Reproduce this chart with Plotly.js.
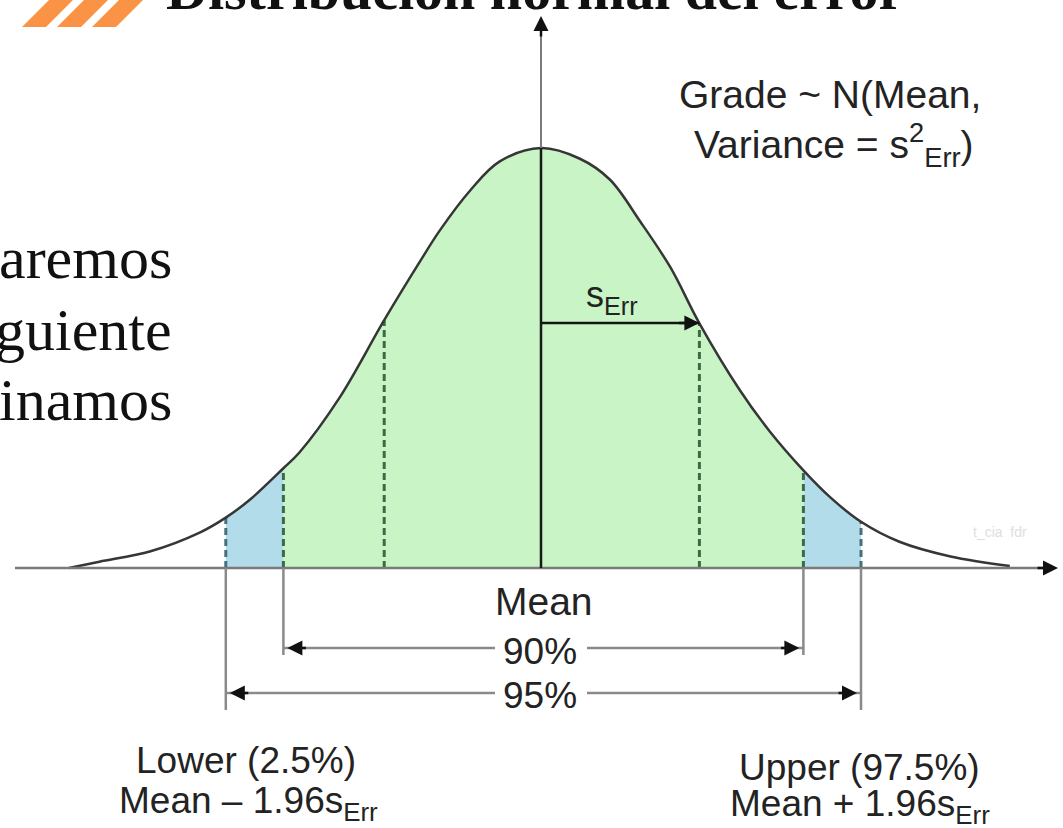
<!DOCTYPE html>
<html><head><meta charset="utf-8">
<script src="https://cdn.plot.ly/plotly-3.0.1.min.js"></script>
<style>html,body{margin:0;padding:0;background:#fff;overflow:hidden}#chart{width:1063px;height:828px}</style>
</head><body><div id="chart"></div>
<script>
// ---- data ----
// x position along the axis, in units of s_Err from the mean
const zVals = [-2.95, -2.76, -2.44, -2.13, -1.97, -1.82, -1.61, -1.51, -1.26, -0.98, -0.76, -0.63, -0.44, -0.26, 0,
               0.24, 0.43, 0.62, 0.81, 0.99, 1.24, 1.43, 1.64, 1.81, 2.0, 2.24, 2.56, 2.93];
// height of the error density curve
const density = [0.000, 0.006, 0.016, 0.034, 0.048, 0.065, 0.095, 0.110, 0.162, 0.236, 0.291, 0.322, 0.360, 0.387, 0.400,
                 0.390, 0.370, 0.330, 0.286, 0.233, 0.170, 0.130, 0.093, 0.067, 0.044, 0.025, 0.011, 0.002];
// marked positions
const lower95 = -1.97, lower90 = -1.61, minusOne = -0.98, plusOne = 0.99, upper90 = 1.64, upper95 = 2.0;
// texts
const titleText = 'Distribución normal del error';
const sideTexts = ['aremos', 'guiente', 'inamos'];
const meanLabel = 'Mean';
const intervalLabels = ['90%', '95%'];
const lowerLabel = ['Lower (2.5%)', 'Mean – 1.96s<sub>Err</sub>'];
const upperLabel = ['Upper (97.5%)', 'Mean + 1.96s<sub>Err</sub>'];
const distLabel = ['Grade ~ N(Mean,', 'Variance = s<sup>2</sup><sub>Err</sub>)'];
const sdLabel = 's<sub>Err</sub>';
const watermark = 't_cia  fdr';

// ---- layout helpers (pixel -> data) ----
const W = 1063, H = 828, X0 = 541, SX = 160, Y0 = 568, SY = 1050;
const px2x = p => (p - X0) / SX;
const py2y = p => (Y0 - p) / SY;
const dx = p => p / SX;

const idx = v => zVals.indexOf(v);
const green = '#c9f5c6', blue = '#b3dcea';
const sans = 'Liberation Sans, Arial, sans-serif';
const serif = 'Liberation Serif, Times New Roman, serif';
const txt = '#232323';

const traces = [];
function fillTrace(a, b, color) {
  traces.push({x: zVals.slice(idx(a), idx(b) + 1), y: density.slice(idx(a), idx(b) + 1),
    mode: 'lines', fill: 'tozeroy', fillcolor: color, line: {width: 0, shape: 'spline', smoothing: 1},
    hoverinfo: 'skip'});
}
fillTrace(lower90, upper90, green);
fillTrace(lower95, lower90, blue);
fillTrace(upper90, upper95, blue);

const dashMarks = [[lower95, '#46707c'], [lower90, '#3c6a45'], [minusOne, '#3c6a45'],
                   [plusOne, '#3c6a45'], [upper90, '#3c6a45'], [upper95, '#46707c']];
dashMarks.forEach(([m, c]) => {
  traces.push({x: [m, m], y: [0, density[idx(m)]], mode: 'lines',
    line: {color: c, width: 3, dash: '7px,4px'}, hoverinfo: 'skip'});
});

traces.push({x: zVals, y: density, mode: 'lines',
  line: {color: '#363636', width: 2.5, shape: 'spline', smoothing: 1}, hoverinfo: 'skip'});

const peak = density[idx(0)];
const y90 = py2y(648), y95 = py2y(693);
const gray = '#8a8a8a';
function ln(x0, y0, x1, y1, color, width) {
  return {type: 'line', xref: 'x', yref: 'y', x0, y0, x1, y1, line: {color, width}};
}
const shapes = [
  ln(px2x(15), 0, px2x(1048), 0, '#7a7a7a', 2.5),
  ln(0, 0, 0, peak, '#1a1a1a', 2.5),
  ln(0, peak, 0, py2y(30), '#7a7a7a', 2),
  ln(0, py2y(323), plusOne, py2y(323), '#151515', 2.5),
  ln(lower90, 0, lower90, py2y(655), gray, 2.5),
  ln(upper90, 0, upper90, py2y(655), gray, 2.5),
  ln(lower95, 0, lower95, py2y(710), gray, 2.5),
  ln(upper95, 0, upper95, py2y(710), gray, 2.5),
  ln(lower90, y90, px2x(495), y90, gray, 2.5),
  ln(px2x(587), y90, upper90, y90, gray, 2.5),
  ln(lower95, y95, px2x(495), y95, gray, 2.5),
  ln(px2x(587), y95, upper95, y95, gray, 2.5)
];
// orange stripes (decoration)
const stripeX = [[22, 46, 73, 49], [57, 81, 108, 84], [92, 116, 143, 119]];
stripeX.forEach(s => {
  const P = (px, py) => (px / W).toFixed(5) + ',' + (1 - py / H).toFixed(5);
  shapes.push({type: 'path', xref: 'paper', yref: 'paper',
    path: 'M' + P(s[0], 27) + ' L' + P(s[1], 27) + ' L' + P(s[2] + 2, -2) + ' L' + P(s[3] + 2, -2) + ' Z',
    fillcolor: '#fb9346', line: {width: 0}});
});

function arrow(xt, yt, xa, ya) {
  return {x: xt, y: yt, ax: xa, ay: ya, xref: 'x', yref: 'y', axref: 'x', ayref: 'y', text: '',
    showarrow: true, arrowhead: 2, arrowsize: 1.2, arrowwidth: 2.5, arrowcolor: '#111', standoff: 0};
}
function label(text, px, py, size, opts) {
  return Object.assign({x: px2x(px), y: py2y(py), xref: 'x', yref: 'y', text, showarrow: false,
    font: {family: sans, size, color: txt}, xanchor: 'center', yanchor: 'middle'}, opts || {});
}
const annotations = [
  arrow(lower90 + dx(4), y90, lower90 + dx(24), y90),
  arrow(upper90 - dx(4), y90, upper90 - dx(24), y90),
  arrow(lower95 + dx(4), y95, lower95 + dx(24), y95),
  arrow(upper95 - dx(4), y95, upper95 - dx(24), y95),
  arrow(plusOne, py2y(323), plusOne - dx(22), py2y(323)),
  arrow(0, py2y(16), 0, py2y(38)),
  arrow(px2x(1058), 0, px2x(1036), 0),
  label(meanLabel, 544, 601, 39),
  label(intervalLabels[0], 540, 651, 37),
  label(intervalLabels[1], 540, 695, 37),
  label(lowerLabel[0], 246, 760, 37),
  label(lowerLabel[1], 248, 803, 37),
  label(upperLabel[0], 859, 767, 37),
  label(upperLabel[1], 860, 806, 37),
  label(distLabel[0], 830, 94, 39),
  label(distLabel[1], 834, 145, 39),
  label(sdLabel, 612, 297, 36),
  label(watermark, 1000, 532, 14, {font: {family: sans, size: 14, color: '#dedede'}}),
  {x: 535 / W, y: 1 + 10 / H, xref: 'paper', yref: 'paper', text: '<b>' + titleText + '</b>', showarrow: false,
   font: {family: serif, size: 58, color: '#111'}, xanchor: 'center', yanchor: 'middle'}
];
sideTexts.forEach((t, i) => {
  annotations.push({x: 174 / W, y: 1 - [258, 330, 400][i] / H, xref: 'paper', yref: 'paper', text: t,
    showarrow: false, font: {family: serif, size: 60, color: '#111'}, xanchor: 'right', yanchor: 'middle'});
});

const layout = {
  width: W, height: H, margin: {l: 0, r: 0, t: 0, b: 0, pad: 0},
  paper_bgcolor: '#fff', plot_bgcolor: '#fff', showlegend: false,
  xaxis: {range: [px2x(0), px2x(W)], visible: false, fixedrange: true},
  yaxis: {range: [py2y(H), py2y(0)], visible: false, fixedrange: true},
  shapes, annotations
};
Plotly.newPlot('chart', traces, layout, {staticPlot: true, displayModeBar: false});
</script>
</body></html>
